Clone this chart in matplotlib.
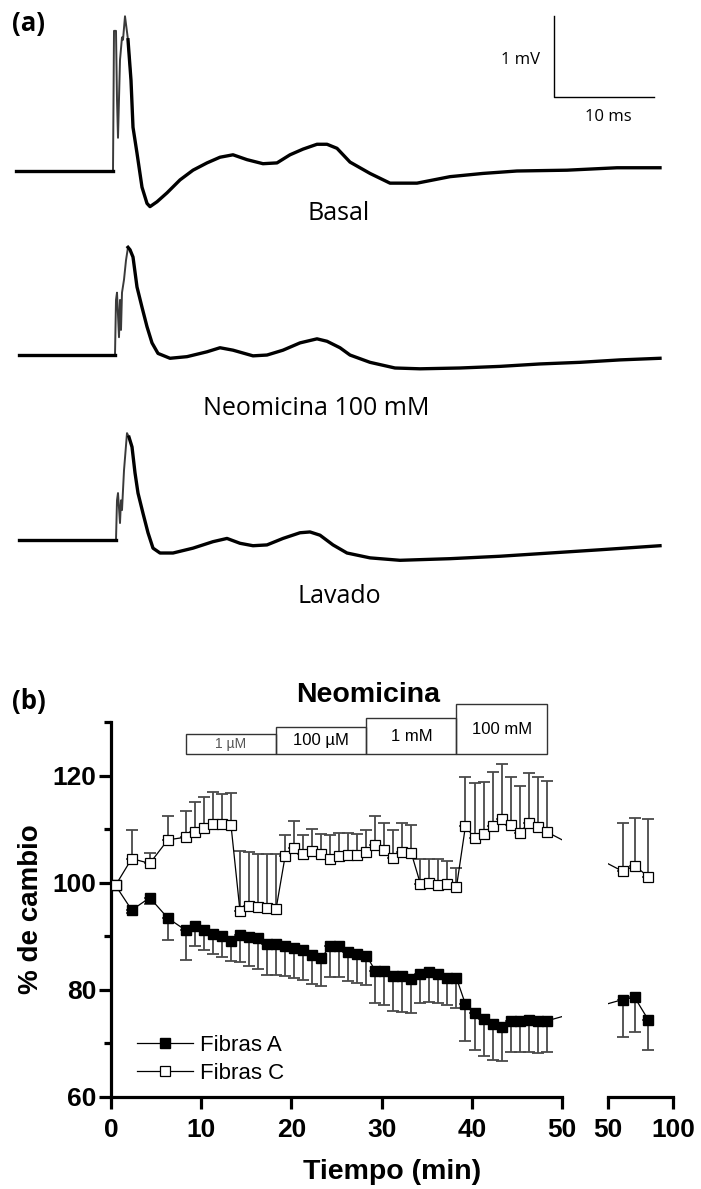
import numpy as np
import matplotlib
matplotlib.use("Agg")
import matplotlib.pyplot as plt
from matplotlib.patches import Rectangle

plt.rcParams['font.family'] = ['Liberation Sans', 'DejaVu Sans']

# ---------------- panel (a): compound action potentials (ms after stimulus, mV from baseline)
basal_ms = [-9.7, 0.0, 0.1, 0.3, 0.4, 0.5, 0.7, 0.9, 1.0, 1.2, 1.5, 1.8, 2.0, 2.4, 2.9, 3.4, 3.7,
            4.4, 5.4, 6.7, 8.0, 9.4, 10.7, 12.0, 13.4, 15.0, 16.4, 17.7, 19.0, 20.4, 21.4, 22.4,
            23.7, 25.7, 27.7, 30.4, 33.7, 37.0, 40.4, 45.4, 50.4, 54.7]
basal_mv = [0.0, 0.0, 1.73, 1.73, 0.88, 0.41, 1.37, 1.65, 1.62, 1.91, 1.62, 1.12, 0.54, 0.22, -0.20,
            -0.40, -0.44, -0.38, -0.27, -0.11, 0.01, 0.10, 0.17, 0.20, 0.14, 0.09, 0.10, 0.20, 0.27,
            0.33, 0.33, 0.28, 0.11, -0.03, -0.15, -0.15, -0.07, -0.03, 0.0, 0.01, 0.04, 0.04]

neo_ms = [-9.4, 0.2, 0.3, 0.4, 0.6, 0.7, 0.8, 0.9, 1.1, 1.3, 1.5, 1.7, 2.0, 2.4, 2.9, 3.4, 3.9, 4.5,
          5.7, 7.4, 9.4, 10.7, 12.0, 14.0, 15.4, 17.0, 18.7, 20.4, 21.4, 22.7, 23.7, 25.7, 28.2,
          30.7, 34.7, 38.7, 42.7, 46.7, 50.7, 54.7]
neo_mv = [0.0, 0.0, 0.68, 0.77, 0.22, 0.68, 0.31, 0.77, 0.93, 1.17, 1.33, 1.30, 1.21, 0.84, 0.59,
          0.35, 0.15, 0.02, -0.04, -0.02, 0.04, 0.09, 0.06, -0.01, 0.0, 0.06, 0.15, 0.20, 0.17, 0.09,
          0.0, -0.09, -0.16, -0.17, -0.16, -0.14, -0.11, -0.09, -0.06, -0.04]

lav_ms = [-9.4, 0.3, 0.4, 0.5, 0.7, 0.8, 0.9, 1.1, 1.4, 1.6, 1.9, 2.2, 2.5, 3.0, 3.5, 4.0, 4.7, 6.0,
          8.0, 10.0, 11.4, 12.7, 14.0, 15.4, 17.0, 18.7, 19.7, 20.7, 22.0, 23.4, 25.7, 28.7, 33.7,
          38.7, 43.7, 48.7, 54.7]
lav_mv = [0.0, 0.0, 0.49, 0.58, 0.21, 0.49, 0.37, 0.86, 1.32, 1.27, 1.15, 0.83, 0.58, 0.33, 0.09,
          -0.10, -0.16, -0.16, -0.10, -0.02, 0.02, -0.04, -0.07, -0.06, 0.02, 0.09, 0.10, 0.06,
          -0.06, -0.16, -0.22, -0.25, -0.23, -0.20, -0.16, -0.12, -0.07]

trace_names = ["Basal", "Neomicina 100 mM", "Lavado"]

# ---------------- panel (b): % change over time
t_min = [0.5, 2.3, 4.3, 6.3, 8.3, 9.3, 10.3, 11.3, 12.3, 13.3, 14.3, 15.3, 16.3, 17.3, 18.3,
         19.3, 20.3, 21.3, 22.3, 23.3, 24.3, 25.3, 26.3, 27.3, 28.3, 29.3, 30.3, 31.3, 32.3,
         33.3, 34.3, 35.3, 36.3, 37.3, 38.3, 39.3, 40.3, 41.3, 42.3, 43.3, 44.3, 45.3, 46.3,
         47.3, 48.3]
fibras_a = [99.5, 94.9, 97.2, 93.4, 91.1, 91.9, 91.1, 90.5, 90.1, 89.2, 90.2, 89.8, 89.7, 88.6,
            88.6, 88.1, 87.9, 87.5, 86.6, 86.0, 88.1, 88.1, 87.1, 86.7, 86.4, 83.6, 83.6, 82.6,
            82.6, 82.1, 83.0, 83.3, 83.0, 82.2, 82.2, 77.3, 75.6, 74.6, 73.7, 73.1, 74.2, 74.2,
            74.4, 74.1, 74.2]
fibras_a_err = [0.0, 0.5, 1.2, 4.0, 5.5, 3.8, 3.6, 3.8, 3.9, 3.8, 5.0, 5.3, 5.8, 5.8, 5.8, 5.5,
                5.7, 5.7, 5.5, 5.3, 5.7, 5.7, 5.5, 5.5, 5.5, 6.1, 6.5, 6.5, 6.7, 6.5, 5.5, 5.6,
                5.5, 5.1, 5.5, 6.8, 6.8, 7.0, 6.7, 6.4, 5.8, 5.8, 6.0, 5.9, 5.8]
fibras_c = [99.5, 104.5, 103.6, 108.0, 108.5, 109.5, 110.2, 111.0, 111.0, 110.8, 94.7, 95.6,
            95.5, 95.3, 95.1, 104.9, 106.4, 105.3, 105.9, 105.3, 104.4, 104.9, 105.1, 105.1,
            105.7, 107.0, 106.1, 104.7, 105.7, 105.5, 99.8, 100.0, 99.6, 99.8, 99.2, 110.6,
            108.3, 109.1, 110.6, 111.9, 110.8, 109.3, 111.2, 110.4, 109.5]
fibras_c_err = [0.0, 5.3, 1.9, 4.5, 4.9, 5.5, 5.8, 5.9, 5.5, 5.9, 11.3, 10.1, 9.8, 10.0, 10.2,
                4.0, 5.2, 3.6, 4.1, 3.8, 4.5, 4.4, 4.2, 4.0, 4.1, 5.5, 5.1, 5.1, 5.5, 5.3, 4.7,
                4.5, 4.8, 4.2, 3.6, 9.1, 10.3, 9.7, 10.0, 10.3, 8.9, 8.7, 9.3, 9.3, 9.4]

t_late = [61.5, 70.5, 81.0]
fibras_a_late = [78.2, 78.6, 74.4]
fibras_a_late_err = [7.0, 6.4, 5.6]
fibras_c_late = [102.1, 103.2, 101.1]
fibras_c_late_err = [9.1, 8.9, 10.8]

conc_labels = ["1 µM", "100 µM", "1 mM", "100 mM"]
conc_start = [8.3, 18.3, 28.3, 38.3]
conc_end = [18.3, 28.3, 38.3, 48.3]

# ================= figure
W, H = 701, 1189
fig = plt.figure(figsize=(W / 100, H / 100), dpi=100)

def fx(px):
    return px / W

def fy(py):
    return 1 - py / H

# ---- panel (a)
axa = fig.add_axes([0, fy(620), 1, 620 / H])
axa.set_xlim(-11.3, 58.8)
axa.set_ylim(-5.543, 2.111)
axa.axis('off')

traces = [(basal_ms, basal_mv), (neo_ms, neo_mv), (lav_ms, lav_mv)]
offsets = [0.0, -2.272, -4.556]
label_pos = [(19.5, -0.52), (9.0, -2.93), (18.4, -5.25)]
for (ms, mv), off, name, (lx, ly) in zip(traces, offsets, trace_names, label_pos):
    ms = np.array(ms)
    mv = np.array(mv) + off
    early = ms <= 1.6
    k = int(np.sum(early))
    # stimulus artefact / fast component: thin grey, the rest: thick black
    axa.plot(ms[:k + 1], mv[:k + 1], color='#3a3a3a', lw=1.4)
    axa.plot(ms[k - 1:], mv[k - 1:], color='black', lw=2.4, solid_joinstyle='round')
    axa.plot(ms[:2], mv[:2], color='black', lw=2.4)
    axa.text(lx, ly, name, ha='left', va='center', fontsize=18, family='Open Sans')

# scale bar
axa.plot([44.1, 44.1, 54.1], [1.914, 0.914, 0.914], color='black', lw=1.0)
axa.text(42.7, 1.37, "1 mV", ha='right', va='center', fontsize=12, family='Open Sans')
axa.text(49.5, 0.667, "10 ms", ha='center', va='center', fontsize=12, family='Open Sans')

fig.text(fx(12), fy(24), "(a)", fontsize=18.5, fontweight='bold', family='Open Sans', va='center')
fig.text(fx(12), fy(702), "(b)", fontsize=18.5, fontweight='bold', family='Open Sans', va='center')

# ---- panel (b)
bottom_px, top_px = 1097, 722
ax1 = fig.add_axes([fx(111), fy(bottom_px), fx(562) - fx(111), (bottom_px - top_px) / H])
ax2 = fig.add_axes([fx(608), fy(bottom_px), fx(673) - fx(608), (bottom_px - top_px) / H])

ax1.set_xlim(0, 50)
ax2.set_xlim(50, 100)
for ax in (ax1, ax2):
    ax.set_ylim(60, 130)

ecol = '#4a4a4a'

def draw_series(ax, t, a, a_err, c, c_err):
    za = np.zeros(len(a))
    ax.errorbar(t, a, yerr=[a_err, za], fmt='none', ecolor=ecol, elinewidth=1.3,
                capsize=4.5, capthick=1.3, zorder=2, clip_on=False)
    ax.errorbar(t, c, yerr=[za, c_err], fmt='none', ecolor=ecol, elinewidth=1.3,
                capsize=4.5, capthick=1.3, zorder=2, clip_on=False)
    la, = ax.plot(t, a, '-s', color='black', lw=0.9, ms=6.8, mfc='black', mec='black',
                  zorder=3, clip_on=False)
    lc, = ax.plot(t, c, '-s', color='black', lw=0.9, ms=7.2, mfc='white', mec='black',
                  mew=0.9, zorder=4, clip_on=False)
    return la, lc

la, lc = draw_series(ax1, t_min, fibras_a, fibras_a_err, fibras_c, fibras_c_err)
draw_series(ax2, t_late, fibras_a_late, fibras_a_late_err, fibras_c_late, fibras_c_late_err)

# lines that cross the axis break: straight on screen, hidden inside the gap
for v0, v1 in [(fibras_a[-1], fibras_a_late[0]), (fibras_c[-1], fibras_c_late[0])]:
    p0 = ax1.transData.transform((t_min[-1], v0))
    p1 = ax2.transData.transform((t_late[0], v1))
    q1 = ax1.transData.inverted().transform(p1)
    q0 = ax2.transData.inverted().transform(p0)
    ax1.plot([t_min[-1], q1[0]], [v0, q1[1]], color='black', lw=0.9, zorder=1)
    ax2.plot([q0[0], t_late[0]], [q0[1], v1], color='black', lw=0.9, zorder=1)

for ax in (ax1, ax2):
    for s in ('top', 'right'):
        ax.spines[s].set_visible(False)
    for s in ('left', 'bottom'):
        ax.spines[s].set_linewidth(2.3)
    ax.tick_params(which='major', direction='out', length=8.5, width=2.3, labelsize=19)
    ax.tick_params(which='minor', direction='out', length=5, width=2.3)
    ax.tick_params(axis='x', pad=6.5)
    ax.tick_params(axis='y', pad=2)

ax1.set_xticks([0, 10, 20, 30, 40, 50])
ax1.set_yticks([60, 80, 100, 120])
ax1.set_yticks([70, 90, 110, 130], minor=True)
ax1.set_xticklabels(['0', '10', '20', '30', '40', '50'], fontweight='bold')
ax1.set_yticklabels(['60', '80', '100', '120'], fontweight='bold')
ax1.set_ylabel("% de cambio", fontsize=20, fontweight='bold', labelpad=6)

ax2.set_xticks([50, 100])
ax2.set_xticklabels(['50', '100'], fontweight='bold')
ax2.spines['left'].set_visible(False)
ax2.set_yticks([])
ax2.set_yticks([], minor=True)
ax2.patch.set_visible(False)

fig.text(fx(392), fy(1172), "Tiempo (min)", ha='center', va='center', fontsize=20.5,
         fontweight='bold')

# concentration boxes
box_bottom = 124.0
box_tops = [127.7, 129.0, 130.7, 133.3]
box_fs = [10, 12, 12, 12]
box_col = ['#555555', 'black', 'black', 'black']
for x0, x1, top, lab, fs, col in zip(conc_start, conc_end, box_tops, conc_labels, box_fs, box_col):
    ax1.add_patch(Rectangle((x0, box_bottom), x1 - x0, top - box_bottom, fill=False,
                            edgecolor='#333333', lw=1.0, clip_on=False))
    ax1.text((x0 + x1) / 2, (box_bottom + top) / 2, lab, ha='center', va='center',
             fontsize=fs, color=col, clip_on=False)
ax1.text(28.5, 135.0, "Neomicina", ha='center', va='center', fontsize=20.5,
         fontweight='bold', clip_on=False)

leg = ax1.legend([la, lc], ["Fibras A", "Fibras C"], loc='lower left',
                 bbox_to_anchor=(0.058, 0.035), frameon=False, fontsize=16,
                 handlelength=2.5, handletextpad=0.35, labelspacing=0.3,
                 borderpad=0, borderaxespad=0)

fig.savefig("out.png", dpi=100)
